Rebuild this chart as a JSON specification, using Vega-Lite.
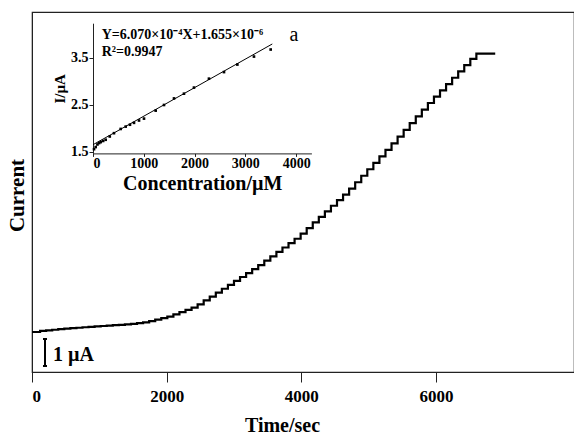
{
  "$schema": "https://vega.github.io/schema/vega-lite/v6.json",
  "width": 542,
  "height": 360,
  "autosize": {"type": "none"},
  "padding": {"left": 32, "top": 12, "right": 0, "bottom": 63},
  "background": "white",
  "config": {
    "view": {"stroke": "#222", "strokeWidth": 1.2},
    "font": "Liberation Serif",
    "axis": {
      "grid": false,
      "labelFont": "Liberation Serif",
      "titleFont": "Liberation Serif",
      "labelFontWeight": "bold",
      "titleFontWeight": "bold",
      "labelColor": "black",
      "titleColor": "black",
      "domainColor": "#222",
      "tickColor": "#222"
    }
  },
  "datasets": {
    "current": [
      {"x": 0, "y": 1.481}, {"x": 120, "y": 1.521}, {"x": 210, "y": 1.543}, {"x": 300, "y": 1.565},
      {"x": 390, "y": 1.586}, {"x": 480, "y": 1.605}, {"x": 570, "y": 1.622}, {"x": 660, "y": 1.639},
      {"x": 750, "y": 1.657}, {"x": 840, "y": 1.674}, {"x": 930, "y": 1.689}, {"x": 1020, "y": 1.703},
      {"x": 1110, "y": 1.718}, {"x": 1200, "y": 1.733}, {"x": 1290, "y": 1.747}, {"x": 1380, "y": 1.762},
      {"x": 1470, "y": 1.784}, {"x": 1560, "y": 1.81}, {"x": 1650, "y": 1.837}, {"x": 1740, "y": 1.887},
      {"x": 1830, "y": 1.942}, {"x": 1920, "y": 1.997}, {"x": 2010, "y": 2.053}, {"x": 2100, "y": 2.136},
      {"x": 2190, "y": 2.22}, {"x": 2280, "y": 2.303}, {"x": 2370, "y": 2.386}, {"x": 2460, "y": 2.506},
      {"x": 2550, "y": 2.65}, {"x": 2640, "y": 2.794}, {"x": 2730, "y": 2.939}, {"x": 2820, "y": 3.083},
      {"x": 2910, "y": 3.227}, {"x": 3000, "y": 3.373}, {"x": 3090, "y": 3.519}, {"x": 3180, "y": 3.665},
      {"x": 3270, "y": 3.811}, {"x": 3360, "y": 3.96}, {"x": 3450, "y": 4.123}, {"x": 3540, "y": 4.286},
      {"x": 3630, "y": 4.448}, {"x": 3720, "y": 4.611}, {"x": 3810, "y": 4.774}, {"x": 3900, "y": 4.936},
      {"x": 3990, "y": 5.126}, {"x": 4080, "y": 5.332}, {"x": 4170, "y": 5.539}, {"x": 4260, "y": 5.745},
      {"x": 4350, "y": 5.952}, {"x": 4440, "y": 6.158}, {"x": 4530, "y": 6.365}, {"x": 4620, "y": 6.571},
      {"x": 4710, "y": 6.79}, {"x": 4800, "y": 7.027}, {"x": 4890, "y": 7.269}, {"x": 4980, "y": 7.509},
      {"x": 5070, "y": 7.748}, {"x": 5160, "y": 7.988}, {"x": 5250, "y": 8.228}, {"x": 5340, "y": 8.469},
      {"x": 5430, "y": 8.718}, {"x": 5520, "y": 8.967}, {"x": 5610, "y": 9.217}, {"x": 5700, "y": 9.466},
      {"x": 5790, "y": 9.716}, {"x": 5880, "y": 9.963}, {"x": 5970, "y": 10.196}, {"x": 6060, "y": 10.43},
      {"x": 6150, "y": 10.664}, {"x": 6240, "y": 10.898}, {"x": 6330, "y": 11.131}, {"x": 6420, "y": 11.365},
      {"x": 6510, "y": 11.599}, {"x": 6600, "y": 11.789}, {"x": 6880, "y": 11.789}
    ],
    "bar": [
      {"x": 193, "x2": 193, "y": 0.222, "y2": 1.222},
      {"x": 163, "x2": 223, "y": 0.222, "y2": 0.222},
      {"x": 163, "x2": 223, "y": 1.222, "y2": 1.222}
    ],
    "barlabel": [{"x": 312, "y": 0.41, "label": "1 µA"}],
    "cal": [
      {"x": 20, "y": 1.56}, {"x": 53, "y": 1.605}, {"x": 87, "y": 1.66}, {"x": 120, "y": 1.69},
      {"x": 152, "y": 1.71}, {"x": 200, "y": 1.735}, {"x": 250, "y": 1.76}, {"x": 330, "y": 1.83},
      {"x": 413, "y": 1.9}, {"x": 545, "y": 1.99}, {"x": 644, "y": 2.04}, {"x": 728, "y": 2.08},
      {"x": 807, "y": 2.12}, {"x": 906, "y": 2.17}, {"x": 1004, "y": 2.21}, {"x": 1234, "y": 2.38},
      {"x": 1398, "y": 2.5}, {"x": 1595, "y": 2.64}, {"x": 1791, "y": 2.74}, {"x": 1988, "y": 2.87},
      {"x": 2283, "y": 3.06}, {"x": 2579, "y": 3.2}, {"x": 2842, "y": 3.36}, {"x": 3169, "y": 3.53},
      {"x": 3498, "y": 3.68}
    ],
    "fit": [{"x": 0, "y": 1.655}, {"x": 3530, "y": 3.798}],
    "notes": [
      {"x": 171, "y": 3.99, "label": "Y=6.070×10⁻⁴X+1.655×10⁻⁶"},
      {"x": 171, "y": 3.62, "label": "R²=0.9947"}
    ],
    "tag": [{"x": 3957, "y": 3.99, "label": "a"}]
  },
  "layer": [
    {
      "layer": [
        {
          "data": {"name": "current"},
          "mark": {"type": "line", "interpolate": "step-after", "color": "black", "strokeWidth": 2.2},
          "encoding": {
            "x": {
              "field": "x", "type": "quantitative",
              "scale": {"domain": [0, 8050], "nice": false, "zero": false},
              "axis": {
                "values": [0, 2000, 4000, 6000], "format": "d", "title": "Time/sec",
                "labelFontSize": 17, "titleFontSize": 20, "tickSize": 10, "labelPadding": 6,
                "titleX": 250, "titleY": 53, "titleBaseline": "middle", "titleAlign": "center"
              }
            },
            "y": {
              "field": "y", "type": "quantitative",
              "scale": {"domain": [0, 13.333], "nice": false, "zero": false},
              "axis": {
                "title": "Current", "labels": false, "ticks": false,
                "titleFontSize": 21, "titleX": -15, "titleY": 183, "titleBaseline": "middle", "titleAlign": "center"
              }
            }
          }
        },
        {
          "data": {"name": "bar"},
          "mark": {"type": "rule", "color": "black", "strokeWidth": 2},
          "encoding": {
            "x": {"field": "x", "type": "quantitative"},
            "x2": {"field": "x2"},
            "y": {"field": "y", "type": "quantitative"},
            "y2": {"field": "y2"}
          }
        },
        {
          "data": {"name": "barlabel"},
          "mark": {"type": "text", "align": "left", "baseline": "alphabetic", "fontSize": 20, "fontWeight": "bold", "font": "Liberation Serif", "color": "black"},
          "encoding": {
            "x": {"field": "x", "type": "quantitative"},
            "y": {"field": "y", "type": "quantitative"},
            "text": {"field": "label"}
          }
        }
      ]
    },
    {
      "layer": [
        {
          "data": {"name": "fit"},
          "mark": {"type": "line", "color": "black", "strokeWidth": 1},
          "encoding": {
            "x": {
              "field": "x", "type": "quantitative",
              "scale": {"domain": [0, 4300], "range": [61, 279.4], "nice": false, "zero": false},
              "axis": {
                "orient": "bottom", "offset": -218.6, "values": [0, 1000, 2000, 3000, 4000], "format": "d",
                "title": "Concentration/µM", "titleFontSize": 20, "labelFontSize": 14,
                "tickSize": 3, "labelPadding": 0, "titlePadding": 3
              }
            },
            "y": {
              "field": "y", "type": "quantitative",
              "scale": {"domain": [1.47, 4.24], "range": [141.4, 11.2], "nice": false, "zero": false},
              "axis": {
                "orient": "left", "offset": -61, "values": [1.5, 2.5, 3.5], "format": ".1f",
                "title": "I/µA", "titleFontSize": 15, "labelFontSize": 14,
                "tickSize": 4, "labelPadding": 1, "titlePadding": 3
              }
            }
          }
        },
        {
          "data": {"name": "cal"},
          "mark": {"type": "square", "filled": true, "size": 7, "color": "black", "opacity": 1},
          "encoding": {
            "x": {"field": "x", "type": "quantitative"},
            "y": {"field": "y", "type": "quantitative"}
          }
        },
        {
          "data": {"name": "notes"},
          "mark": {"type": "text", "align": "left", "baseline": "middle", "fontSize": 14, "fontWeight": "bold", "font": "Liberation Serif", "color": "black"},
          "encoding": {
            "x": {"field": "x", "type": "quantitative"},
            "y": {"field": "y", "type": "quantitative"},
            "text": {"field": "label"}
          }
        },
        {
          "data": {"name": "tag"},
          "mark": {"type": "text", "align": "center", "baseline": "middle", "fontSize": 20, "font": "Liberation Serif", "color": "black"},
          "encoding": {
            "x": {"field": "x", "type": "quantitative"},
            "y": {"field": "y", "type": "quantitative"},
            "text": {"field": "label"}
          }
        }
      ]
    }
  ],
  "resolve": {"scale": {"x": "independent", "y": "independent"}}
}
